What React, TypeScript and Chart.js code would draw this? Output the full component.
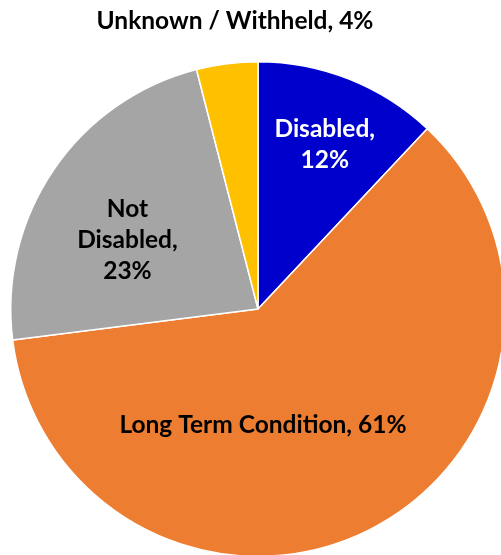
import React, { useEffect, useRef } from "react";
import { Chart, registerables } from "chart.js";

Chart.register(...registerables);

const categories = ["Disabled", "Long Term Condition", "Not Disabled", "Unknown / Withheld"];
const values = [12, 61, 23, 4];
const colors = ["#0000CC", "#ED7D31", "#A5A5A5", "#FFC000"];
const labelColors = ["#FFFFFF", "#000000", "#000000", "#000000"];
const labelLines = [
  ["Disabled,", "12%"],
  ["Long Term Condition, 61%"],
  ["Not", "Disabled,", "23%"],
  ["Unknown / Withheld, 4%"],
];
// label anchor offsets relative to pie centre (fraction of radius)
const labelOffsets = [
  [0.27, -0.665],
  [0.02, 0.47],
  [-0.528, -0.28],
  [-0.093, -1.165],
];

const labelPlugin = {
  id: "pieLabels",
  afterDatasetsDraw(chart: any) {
    const ctx = chart.ctx;
    const meta = chart.getDatasetMeta(0);
    const arc0 = meta.data[0];
    const cx = arc0.x;
    const cy = arc0.y;
    const r = arc0.outerRadius;
    ctx.save();
    ctx.font = "bold 24.5px Lato";
    ctx.textAlign = "center";
    ctx.textBaseline = "middle";
    const lh = 31;
    labelLines.forEach((lines, i) => {
      const x = cx + labelOffsets[i][0] * r;
      const y = cy + labelOffsets[i][1] * r;
      ctx.fillStyle = labelColors[i];
      const start = y - ((lines.length - 1) * lh) / 2;
      lines.forEach((t, j) => ctx.fillText(t, x, start + j * lh));
    });
    ctx.restore();
  },
};

export default function App() {
  const ref = useRef<HTMLCanvasElement>(null);
  useEffect(() => {
    if (!ref.current) return;
    const chart = new Chart(ref.current, {
      type: "pie",
      data: {
        labels: categories,
        datasets: [
          {
            data: values,
            backgroundColor: colors,
            borderColor: "#FFFFFF",
            borderWidth: 1.5,
          },
        ],
      },
      options: {
        responsive: false,
        animation: false,
        layout: { padding: { left: 10, right: 10, top: 61, bottom: 61 } },
        plugins: {
          legend: { display: false },
          tooltip: { enabled: false },
        },
      },
      plugins: [labelPlugin],
    });
    return () => chart.destroy();
  }, []);
  return (
    <div
      style={{
        position: "fixed",
        left: 0,
        top: 0,
        width: 501,
        height: 555,
        overflow: "hidden",
        background: "#FFFFFF",
      }}
    >
      <canvas ref={ref} width={516} height={618} style={{ width: 516, height: 618 }} />
    </div>
  );
}
